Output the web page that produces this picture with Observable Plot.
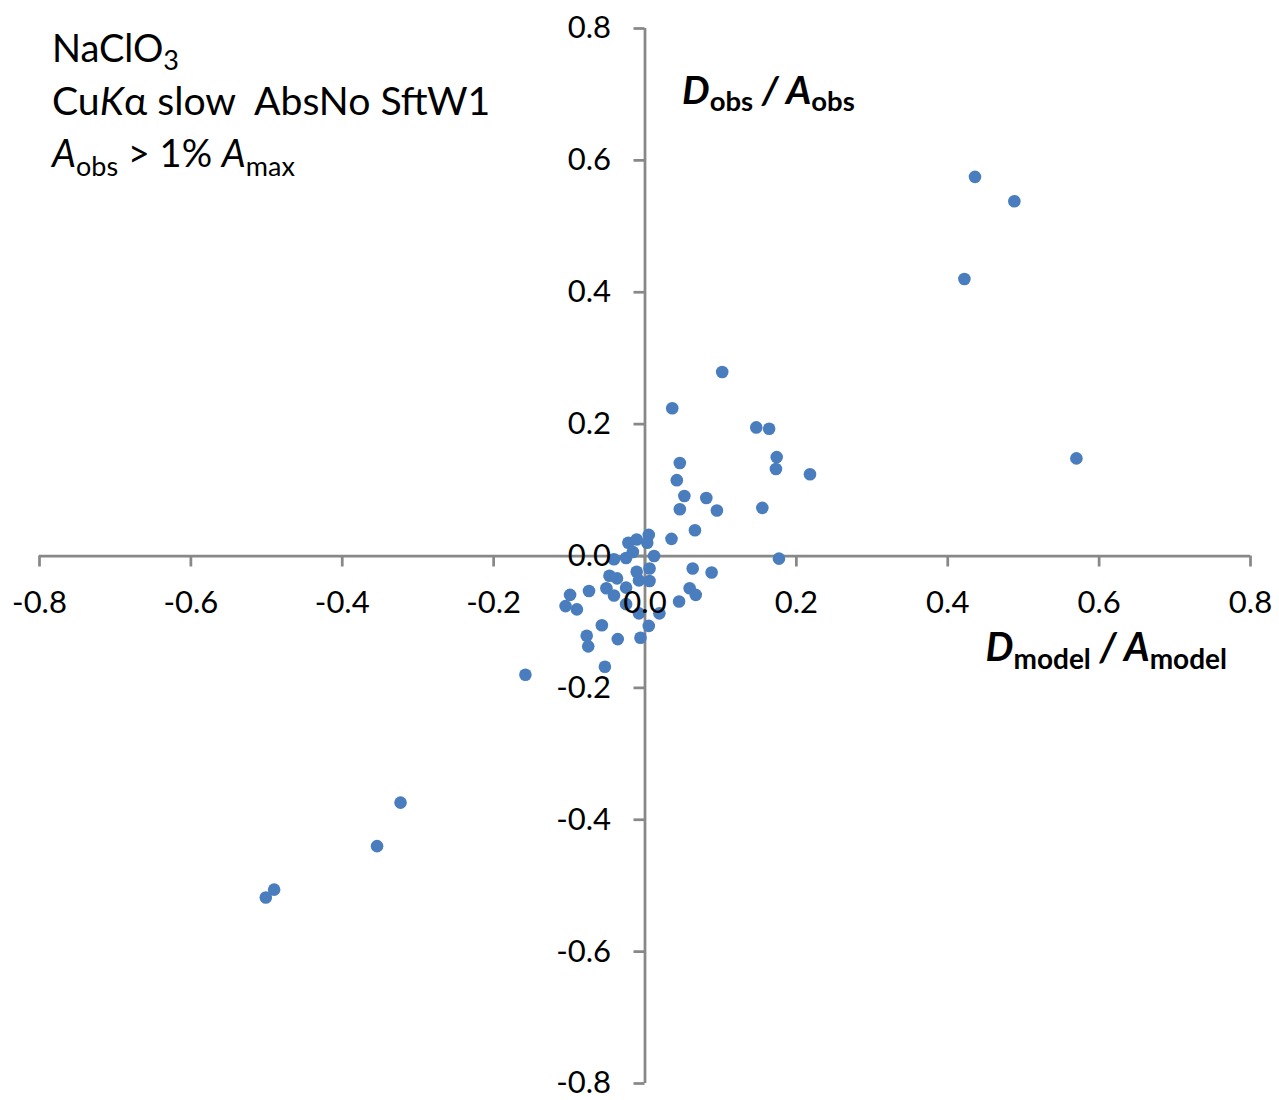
<!DOCTYPE html>
<html><head><meta charset="utf-8">
<script src="https://cdn.jsdelivr.net/npm/d3@7"></script>
<script src="https://cdn.jsdelivr.net/npm/@observablehq/plot@0.6"></script>
<style>
html,body{margin:0;padding:0;background:#fff;overflow:hidden}
#chart{position:relative;width:1279px;height:1100px}
#chart svg{display:block}
</style></head><body><div id="chart"></div>
<script>
// D_model / A_model (x) and D_obs / A_obs (y)
const xModel = [0.436, 0.488, 0.422, 0.570, 0.102, 0.036, 0.147, 0.164, 0.174, 0.173,
  0.218, 0.046, 0.042, 0.052, 0.081, 0.046, 0.095, 0.155, 0.066, 0.035,
  0.005, 0.003, 0.012, 0.177, -0.011, -0.022, -0.016, -0.025, -0.041, 0.063,
  0.088, 0.006, -0.011, 0.006, -0.008, -0.047, -0.037, -0.051, -0.041, -0.025,
  -0.074, -0.099, -0.105, -0.090, -0.025, -0.008, 0.019, 0.045, 0.059, 0.067,
  0.005, -0.057, -0.077, -0.075, -0.036, -0.006, -0.053, -0.158, -0.323, -0.354,
  -0.490, -0.501];
const yObs = [0.575, 0.538, 0.420, 0.148, 0.279, 0.224, 0.195, 0.193, 0.150, 0.132,
  0.124, 0.141, 0.115, 0.091, 0.088, 0.071, 0.069, 0.073, 0.039, 0.026,
  0.032, 0.020, 0.000, -0.004, 0.025, 0.020, 0.006, -0.003, -0.005, -0.019,
  -0.025, -0.019, -0.024, -0.038, -0.037, -0.030, -0.034, -0.049, -0.060, -0.048,
  -0.053, -0.059, -0.076, -0.081, -0.073, -0.087, -0.087, -0.069, -0.049, -0.059,
  -0.106, -0.105, -0.121, -0.137, -0.126, -0.124, -0.168, -0.180, -0.374, -0.440,
  -0.506, -0.518];
const tickValues = [-0.8, -0.6, -0.4, -0.2, 0, 0.2, 0.4, 0.6, 0.8];
const tickLabels = ["-0.8", "-0.6", "-0.4", "-0.2", "0.0", "0.2", "0.4", "0.6", "0.8"];

const points = xModel.map((x, i) => ({x, y: yObs[i]}));
const ticks = tickValues.map((v, i) => ({v, label: tickLabels[i]}));
const axisColor = "#888888";
const font = "Lato, 'Open Sans', sans-serif";

const plot = Plot.plot({
  width: 1279, height: 1100,
  marginLeft: 39, marginRight: 29, marginTop: 28, marginBottom: 17,
  x: {domain: [-0.8, 0.8], axis: null},
  y: {domain: [-0.8, 0.8], axis: null},
  style: {fontFamily: font, background: "#fff", overflow: "visible"},
  marks: [
    Plot.ruleY([0], {x1: -0.8, x2: 0.8, stroke: axisColor, strokeWidth: 2.75}),
    Plot.ruleX([0], {y1: -0.8, y2: 0.8, stroke: axisColor, strokeWidth: 2.75}),
    Plot.ruleX(ticks, {x: "v", y1: 0, y2: 0, insetBottom: -11, stroke: axisColor, strokeWidth: 2.75}),
    Plot.ruleY(ticks, {y: "v", x1: 0, x2: 0, insetLeft: -11, stroke: axisColor, strokeWidth: 2.75}),
    Plot.dot(points, {x: "x", y: "y", r: 6.3, fill: "#4a7dbd"}),
    Plot.text(ticks, {x: "v", y: 0, text: "label", dy: 47, fontSize: 31, fill: "#000"}),
    Plot.text(ticks, {x: 0, y: "v", text: "label", dx: -34, textAnchor: "end", fontSize: 31, fill: "#000"})
  ]
});
document.getElementById("chart").appendChild(plot);

const svg = d3.select(plot);
function rich(x, y, size, anchor, parts, bold) {
  const t = svg.append("text").attr("x", x).attr("y", y)
    .attr("font-size", size).attr("font-family", font).attr("fill", "#000")
    .attr("text-anchor", anchor).attr("font-weight", bold ? "bold" : "normal");
  parts.forEach(p => {
    const s = t.append("tspan").text(p.t);
    if (p.it) s.attr("font-style", "italic");
    if (p.size) s.attr("font-size", p.size);
    if (p.dy) s.attr("dy", p.dy);
  });
}
// axis titles
rich(682, 104, 39, "start", [
  {t: "D", it: true}, {t: "obs", size: 27.5, dy: 7}, {t: " / ", it: true, dy: -7},
  {t: "A", it: true}, {t: "obs", size: 27.5, dy: 7}], true);
rich(1227, 661, 39.5, "end", [
  {t: "D", it: true}, {t: "model", size: 28, dy: 8}, {t: " / ", it: true, dy: -8},
  {t: "A", it: true}, {t: "model", size: 28, dy: 8}], true);
// annotation
rich(52, 62, 38, "start", [{t: "NaClO"}, {t: "3", size: 27, dy: 8}], false);
rich(52, 115, 39.2, "start", [{t: "Cu"}, {t: "K", it: true}, {t: "α slow\u00a0\u00a0AbsNo SftW1"}], false);
rich(52, 167, 38, "start", [
  {t: "A", it: true}, {t: "obs", size: 27, dy: 9}, {t: " > 1% ", dy: -9},
  {t: "A", it: true}, {t: "max", size: 27, dy: 9}], false);
</script>
</body></html>
